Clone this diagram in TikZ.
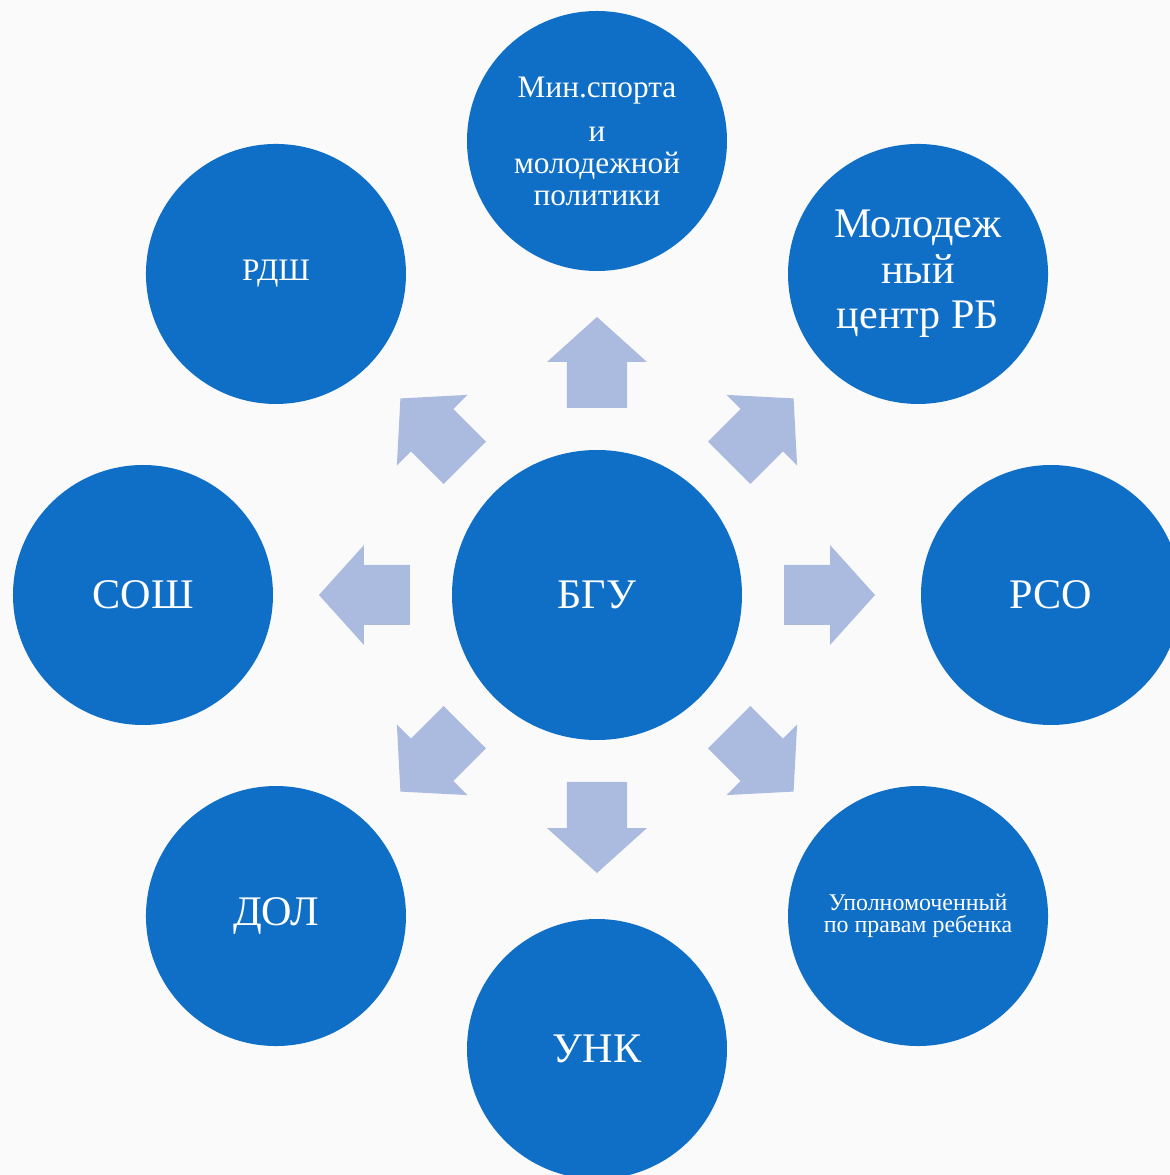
\documentclass[tikz,border=0pt]{standalone}
\usepackage{fontspec}
\setmainfont{Liberation Serif}
\definecolor{circblue}{HTML}{0F6FC6}
\definecolor{arrowblue}{HTML}{ABBBDF}

\begin{document}
\begin{tikzpicture}[
    circ/.style={circle, fill=circblue, text=white, minimum size=2.6cm, inner sep=0pt, align=center},
    bigtxt/.style={font=\fontsize{12}{13}\selectfont},
    midtxt/.style={font=\fontsize{8.9}{9.1}\selectfont},
    smalltxt/.style={font=\fontsize{6.8}{6.4}\selectfont}
  ]
    % фон
    \useasboundingbox (-5.97,-5.80) rectangle (5.73,5.95);
    \clip (-5.97,-5.80) rectangle (5.73,5.95);
    \fill[black!2] (-5.97,-5.80) rectangle (5.73,5.95);

    % центр
    \node[circ, bigtxt, minimum size=2.9cm] (BGU) at (0, 0) {БГУ};

    % узлы
    \node[circ, midtxt] (MIN) at (90:4.54) {Мин.спорта\\[3.4pt] и\\ молодежной\\ политики};
    \node[circ, bigtxt] (MOL) at (45:4.54) {Молодеж\\ный\\центр РБ};
    \node[circ, bigtxt] (RSO) at (0:4.54) {РСО};
    \node[circ, smalltxt] (UPOL) at (-45:4.54) {Уполномоченный\\по правам ребенка};
    \node[circ, bigtxt] (UNK) at (-90:4.54) {УНК};
    \node[circ, bigtxt] (DOL) at (-135:4.54) {ДОЛ};
    \node[circ, bigtxt] (SOSH) at (180:4.54) {СОШ};
    \node[circ, midtxt] (RDSH) at (135:4.54) {РДШ};

    % стрелки
    \foreach \a in {0,45,...,315}
      \fill[arrowblue, rotate=\a] (1.87,-0.3) -- (2.33,-0.3) -- (2.33,-0.5) -- (2.78,0)
        -- (2.33,0.5) -- (2.33,0.3) -- (1.87,0.3) -- cycle;
\end{tikzpicture}
\end{document}
